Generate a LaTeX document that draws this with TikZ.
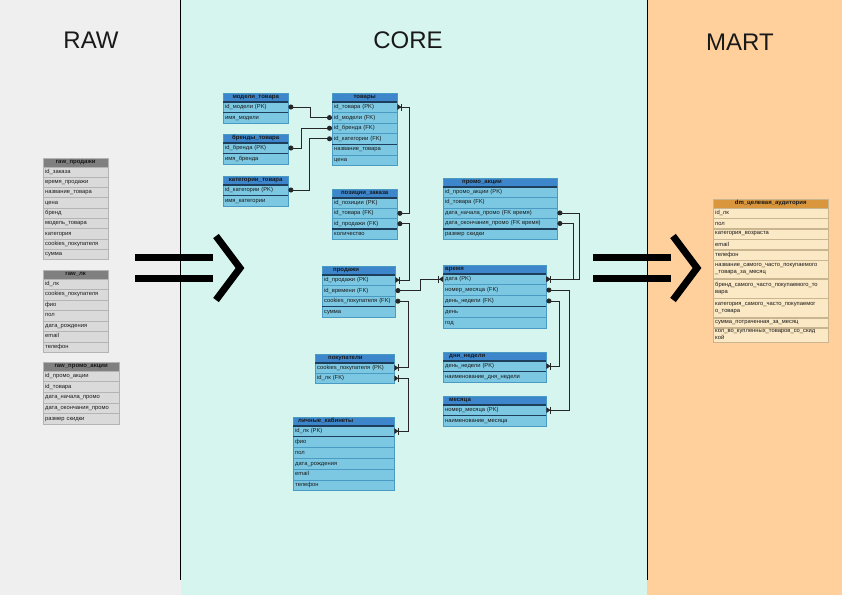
\documentclass[tikz,border=0pt]{standalone}
\usepackage{fontspec}
\setmainfont{Liberation Sans}
\usetikzlibrary{arrows.meta}
\definecolor{rawbg}{HTML}{EFEFEF}
\definecolor{corebg}{HTML}{D6F5EE}
\definecolor{martbg}{HTML}{FFD09C}
\definecolor{corehd}{HTML}{3D86CC}
\definecolor{corerw}{HTML}{7CC8E2}
\definecolor{corebd}{HTML}{4A9BC4}
\definecolor{coresep}{HTML}{1E3F5C}
\definecolor{rawhd}{HTML}{808080}
\definecolor{rawrw}{HTML}{DADADA}
\definecolor{rawbd}{HTML}{B4B4B4}
\definecolor{marthd}{HTML}{D9963C}
\definecolor{martrw}{HTML}{FBE8C4}
\definecolor{martbd}{HTML}{C9B690}
\tikzset{
  cell/.style={inner xsep=2pt, inner ysep=0pt, line width=0.4pt, text=black!90,
    font=\fontsize{5.8}{6.8}\selectfont, text height=4.2pt, text depth=1.2pt},
  rawhead/.style={cell, font=\fontsize{6}{7}\selectfont\bfseries, fill=rawhd, draw=rawbd, minimum height=8.5pt},
  rawrow/.style={cell, fill=rawrw, draw=rawbd, align=left},
  rawhline/.style={draw=none},
  corehead/.style={cell, font=\fontsize{6}{7}\selectfont\bfseries, fill=corehd, draw=corebd, minimum height=8.5pt},
  corerow/.style={cell, fill=corerw, draw=corebd, align=left},
  corehline/.style={draw=coresep, line width=1.3pt},
  thicksep/.style={draw=coresep, line width=1.3pt},
  marthead/.style={cell, font=\fontsize{6}{7}\selectfont\bfseries, fill=marthd, draw=martbd, minimum height=8.5pt, text width=111pt, align=center},
  martrow/.style={inner xsep=2pt, inner ysep=0pt, line width=0.4pt, text=black!90,
    font=\fontsize{5.8}{6.8}\selectfont, fill=martrw, draw=martbd, text width=111pt, align=left},
  conn/.style={draw=black!85, line width=0.9pt},
  dotend/.tip={Circle[length=5pt]},
  pkend/.tip={Bar[width=7pt,line width=1pt,sep=0pt] Triangle[reversed,length=4pt,width=5.5pt,sep=0pt]},
  bigarrow/.style={draw=black, line width=7pt},
  divider/.style={draw=black, line width=1pt},
  bandtitle/.style={font=\fontsize{24}{28}\selectfont, text=black!90}
}
% #1 kind, #2 name, #3 x, #4 y, #5 width, #6 pitch, #7 header options, #8 title, #9 rows
\newcommand\erdtab[9]{%
  \pgfmathsetmacro\tabtw{#5-4}%
  \node[#1head, text width=\tabtw pt, #7, anchor=north west] (#2) at (#3,#4) {#8};
  \foreach \r [count=\i] in {#9} {
    \pgfmathsetmacro\tabyy{#4+8.5+(\i-1)*#6}
    \node[#1row, text width=\tabtw pt, minimum height=#6pt, anchor=north west] (#2-\i) at (#3,\tabyy) {\r};
  }
  \draw[#1hline] (#2.south west) -- (#2.south east);
}
\begin{document}
\begin{tikzpicture}[x=1pt,y=-1pt]
% bands
\fill[rawbg] (0,0) rectangle (180.5,595);
\fill[corebg] (180.5,0) rectangle (647,595);
\fill[martbg] (647,0) rectangle (842,595);
\useasboundingbox (0,0) rectangle (842,595);
\draw[divider] (180.5,0) -- (180.5,580);
\draw[divider] (647,0) -- (647,580);
\node[bandtitle] (traw) at (91,40) {RAW};
\node[bandtitle] (tcore) at (408,40) {CORE};
\node[bandtitle] (tmart) at (740,42) {MART};

% RAW tables
\erdtab{raw}{rp}{43}{158}{65}{10.3}{align=center}{raw\_продажи}{id\_заказа, время\_продажи, название\_товара, цена, бренд, модель\_товара, категория, cookies\_покупателя, сумма}
\erdtab{raw}{rl}{43}{270}{65}{10.5}{align=center}{raw\_лк}{id\_лк, cookies\_покупателя, фио, пол, дата\_рождения, email, телефон}
\erdtab{raw}{ra}{43}{362}{76}{10.7}{align=center}{raw\_промо\_акции}{id\_промо\_акции, id\_товара, дата\_начала\_промо, дата\_окончания\_промо, размер скидки}

% CORE tables
\erdtab{core}{mod}{223}{93}{65}{10.6}{align=center}{модели\_товара}{id\_модели (PK), имя\_модели}
\erdtab{core}{tov}{332}{93}{65}{10.6}{align=center}{товары}{id\_товара (PK), id\_модели (FK), id\_бренда (FK), id\_категории (FK), название\_товара, цена}
\erdtab{core}{brd}{223}{134}{65}{10.6}{align=center}{бренды\_товара}{id\_бренда (PK), имя\_бренда}
\erdtab{core}{cat}{223}{176}{65}{10.6}{align=center}{категории\_товара}{id\_категории (PK), имя\_категории}
\erdtab{core}{poz}{332}{189}{65}{10.4}{align=center}{позиции\_заказа}{id\_позиции (PK), id\_товара (FK), id\_продажи (FK), количество}
\erdtab{core}{prd}{322}{266}{73}{10.6}{align=left}{\hspace*{9pt}продажи}{id\_продажи (PK), id\_времени (FK), cookies\_покупателя (FK), сумма}
\erdtab{core}{pok}{315}{354}{79}{10.4}{align=left}{\hspace*{11pt}покупатели}{cookies\_покупателя (PK), id\_лк (FK)}
\erdtab{core}{lk}{293}{417}{101}{10.8}{align=left}{\hspace*{3pt}личные\_кабинеты}{id\_лк (PK), фио, пол, дата\_рождения, email, телефон}
\erdtab{core}{pro}{443}{178}{114}{10.5}{align=left}{\hspace*{17pt}промо\_акции}{id\_промо\_акции (PK), id\_товара (FK), дата\_начала\_промо (FK время), дата\_окончания\_промо (FK время), размер скидки}
\erdtab{core}{vrm}{443}{265}{103}{10.9}{align=left}{время}{дата (PK), номер\_месяца (FK), день\_недели (FK), день, год}
\erdtab{core}{dn}{443}{352}{103}{10.8}{align=left}{\hspace*{4pt}дни\_недели}{день\_недели (PK), наименование\_дня\_недели}
\erdtab{core}{mes}{443}{396}{103}{10.8}{align=left}{\hspace*{4pt}месяца}{номер\_месяца (PK), наименование\_месяца}

% key separators
\draw[thicksep] (mod-1.south west) -- (mod-1.south east);
\draw[thicksep] (tov-4.south west) -- (tov-4.south east);
\draw[thicksep] (brd-1.south west) -- (brd-1.south east);
\draw[thicksep] (cat-1.south west) -- (cat-1.south east);
\draw[thicksep] (poz-3.south west) -- (poz-3.south east);
\draw[thicksep] (prd-3.south west) -- (prd-3.south east);
\draw[thicksep] (lk-1.south west) -- (lk-1.south east);
\draw[thicksep] (pro-4.south west) -- (pro-4.south east);
\draw[thicksep] (vrm-3.south west) -- (vrm-3.south east);
\draw[thicksep] (dn-1.south west) -- (dn-1.south east);
\draw[thicksep] (mes-1.south west) -- (mes-1.south east);

% connectors
\draw[conn, dotend-dotend] (mod-1.east) -- ++(22,0) |- (tov-2.west);
\draw[conn, dotend-dotend] (brd-1.east) -- ++(13,0) |- (tov-3.west);
\draw[conn, dotend-dotend] (cat-1.east) -- ++(21,0) |- (tov-4.west);
\draw[conn, dotend-pkend] (poz-2.east) -- ++(12,0) |- (tov-1.east);
\draw[conn, dotend-pkend] (poz-3.east) -- ++(12,0) |- (prd-1.east);
\draw[conn, dotend-pkend] (prd-2.east) -- ++(25,0) |- (vrm-1.west);
\draw[conn, dotend-pkend] (prd-3.east) -- ++(13,0) |- (pok-1.east);
\draw[conn, pkend-pkend] (pok-2.east) -- ++(14,0) |- (lk-1.east);
\draw[conn, dotend-pkend] (pro-3.east) -- ++(22,0) |- (vrm-1.east);
\draw[conn, dotend-pkend] (pro-4.east) -- ++(16,0) |- (vrm-1.east);
\draw[conn, dotend-pkend] (vrm-2.east) -- ++(23,0) |- (mes-1.east);
\draw[conn, dotend-pkend] (vrm-3.east) -- ++(13,0) |- (dn-1.east);

% MART table
\node[marthead, anchor=north west] (dm) at (713,199) {dm\_целевая\_аудитория};
\node[martrow, minimum height=10pt, anchor=north west] (dm-1) at (dm.south west) {id\_лк};
\node[martrow, minimum height=10pt, anchor=north west] (dm-2) at (dm-1.south west) {пол};
\node[martrow, minimum height=10pt, anchor=north west] (dm-3) at (dm-2.south west) {категория\_возраста};
\node[martrow, minimum height=10pt, anchor=north west] (dm-4) at (dm-3.south west) {email};
\node[martrow, minimum height=10pt, anchor=north west] (dm-5) at (dm-4.south west) {телефон};
\node[martrow, minimum height=18.5pt, anchor=north west] (dm-6) at (dm-5.south west) {название\_самого\_часто\_покупаемого\\\_товара\_за\_месяц};
\node[martrow, minimum height=19pt, anchor=north west] (dm-7) at (dm-6.south west) {бренд\_самого\_часто\_покупаемого\_то\\вара};
\node[martrow, minimum height=19pt, anchor=north west] (dm-8) at (dm-7.south west) {категория\_самого\_часто\_покупаемог\\о\_товара};
\node[martrow, minimum height=9.5pt, anchor=north west] (dm-9) at (dm-8.south west) {сумма\_потраченная\_за\_месяц};
\node[martrow, minimum height=14pt, anchor=north west] (dm-10) at (dm-9.south west) {кол\_во\_купленных\_товаров\_со\_скид\\кой};

% big transition arrows
\draw[bigarrow] (135,257.5) -- (213,257.5);
\draw[bigarrow] (135,278.5) -- (213,278.5);
\draw[bigarrow, miter limit=6] (216,236) -- (240,268) -- (216,300);
\draw[bigarrow] (593,257.5) -- (671,257.5);
\draw[bigarrow] (593,278.5) -- (671,278.5);
\draw[bigarrow, miter limit=6] (673,236) -- (697,268) -- (673,300);
\end{tikzpicture}
\end{document}
